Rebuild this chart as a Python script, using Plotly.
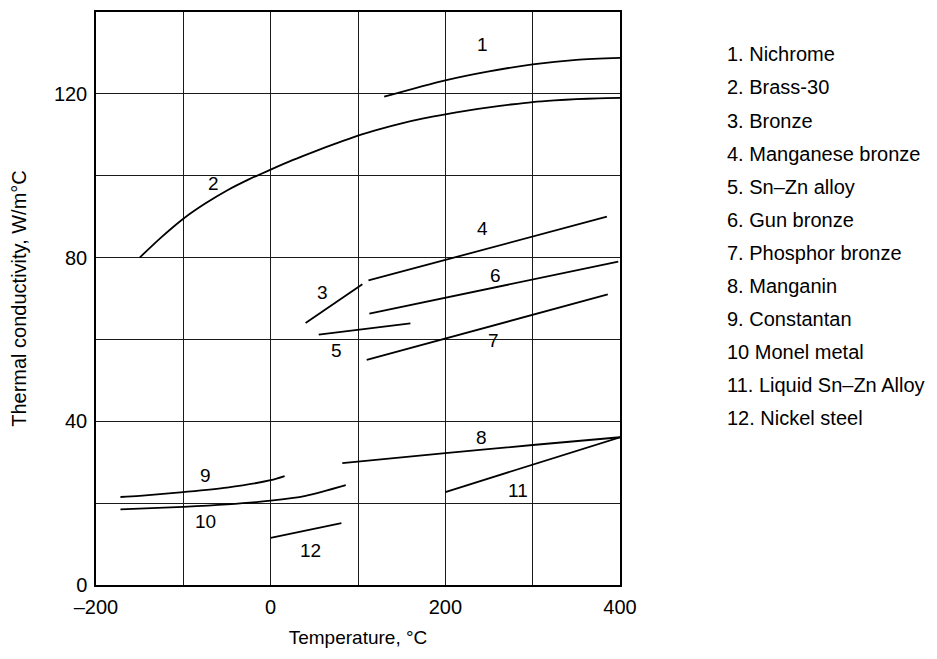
import plotly.graph_objects as go

# Thermal conductivity of copper/nickel alloys vs temperature
nichrome_t = [130, 200, 250, 300, 350, 400]
nichrome_k = [119.3, 123.3, 125.5, 127.2, 128.3, 128.8]

brass_t = [-150, -125, -100, -75, -50, -25, 0, 25, 50, 75, 100, 125, 150, 175,
           200, 225, 250, 275, 300, 325, 350, 375, 400]
brass_k = [80.0, 85.0, 89.5, 93.2, 96.4, 99.1, 101.5, 103.8, 105.9, 107.9, 109.8, 111.4,
           112.8, 114.0, 115.0, 115.9, 116.7, 117.4, 118.0, 118.4, 118.7, 118.9, 119.0]

bronze_t = [40, 105]
bronze_k = [64.0, 73.5]

mn_bronze_t = [112, 385]
mn_bronze_k = [74.4, 90.0]

snzn_t = [55, 160]
snzn_k = [61.2, 63.9]

gun_bronze_t = [113, 398]
gun_bronze_k = [66.3, 79.0]

phosphor_t = [110, 386]
phosphor_k = [55.0, 71.0]

manganin_t = [82, 200, 300, 400]
manganin_k = [29.8, 32.2, 34.2, 36.1]

constantan_t = [-172, -150, -100, -50, 0, 16]
constantan_k = [21.5, 21.8, 22.7, 23.8, 25.6, 26.6]

monel_t = [-172, -100, -50, 0, 40, 86]
monel_k = [18.5, 19.1, 19.7, 20.6, 21.8, 24.4]

liquid_snzn_t = [200, 400]
liquid_snzn_k = [22.7, 36.1]

nickel_steel_t = [0, 81]
nickel_steel_k = [11.5, 15.1]

curve_numbers = ["1", "2", "3", "4", "5", "6", "7", "8", "9", "10", "11", "12"]
label_x = [243, -65, 59, 243, 75, 258, 255, 241, -75, -75, 283, 46]
label_y = [132, 98, 71.5, 87, 57.3, 75.6, 59.8, 36.1, 26.8, 15.4, 23.2, 8.5]

key_names = [
    "1. Nichrome", "2. Brass-30", "3. Bronze", "4. Manganese bronze",
    "5. Sn\u2013Zn alloy", "6. Gun bronze", "7. Phosphor bronze", "8. Manganin",
    "9. Constantan", "10 Monel metal", "11. Liquid Sn\u2013Zn Alloy", "12. Nickel steel",
]

x_tickvals = [-200, 0, 200, 400]
x_ticktext = ["\u2013200", "0", "200", "400"]
y_tickvals = [0, 40, 80, 120]

series = [
    (nichrome_t, nichrome_k), (brass_t, brass_k), (bronze_t, bronze_k),
    (mn_bronze_t, mn_bronze_k), (snzn_t, snzn_k), (gun_bronze_t, gun_bronze_k),
    (phosphor_t, phosphor_k), (manganin_t, manganin_k), (constantan_t, constantan_k),
    (monel_t, monel_k), (liquid_snzn_t, liquid_snzn_k), (nickel_steel_t, nickel_steel_k),
]

FONT = "Liberation Sans, Arial, Helvetica, sans-serif"

fig = go.Figure()
for t, k in series:
    fig.add_trace(go.Scatter(
        x=t, y=k, mode="lines", line=dict(color="black", width=1.8, shape="spline", smoothing=0.8),
        showlegend=False, hoverinfo="skip",
    ))

for num, lx, ly in zip(curve_numbers, label_x, label_y):
    fig.add_annotation(x=lx, y=ly, text=num, showarrow=False,
                       font=dict(family=FONT, size=19, color="black"))

key_top = 0.926
key_step = 33.2 / (659 - 10 - 74)
for i, name in enumerate(key_names):
    fig.add_annotation(xref="paper", yref="paper", x=1.2, y=key_top - i * key_step,
                       text=name, showarrow=False, xanchor="left", yanchor="middle",
                       font=dict(family=FONT, size=20, color="black"))

grid = dict(showgrid=True, gridcolor="#1a1a1a", gridwidth=1.1)

fig.update_xaxes(
    range=[-200, 400], tickvals=x_tickvals, ticktext=x_ticktext,
    showline=True, mirror=True, linecolor="black", linewidth=1.5,
    zeroline=False, ticks="", ticklabelstandoff=3,
    minor=dict(dtick=100, tick0=-200, **grid), **grid,
    tickfont=dict(family=FONT, size=20, color="black"),
    title=dict(text="Temperature, \u00b0C", standoff=14,
               font=dict(family=FONT, size=19, color="black")),
)
fig.update_yaxes(
    range=[0, 140], tickvals=y_tickvals,
    showline=True, mirror=True, linecolor="black", linewidth=1.5,
    zeroline=False, ticks="", ticklabelstandoff=3,
    minor=dict(dtick=20, tick0=0, **grid), **grid,
    tickfont=dict(family=FONT, size=20, color="black"),
    title=dict(text="Thermal conductivity, W/m\u00b0C", standoff=22,
               font=dict(family=FONT, size=20, color="black")),
)

fig.update_layout(
    width=937, height=659,
    margin=dict(l=96, r=317, t=10, b=74),
    paper_bgcolor="white", plot_bgcolor="white",
    showlegend=False,
)

fig.write_html("out.html")
